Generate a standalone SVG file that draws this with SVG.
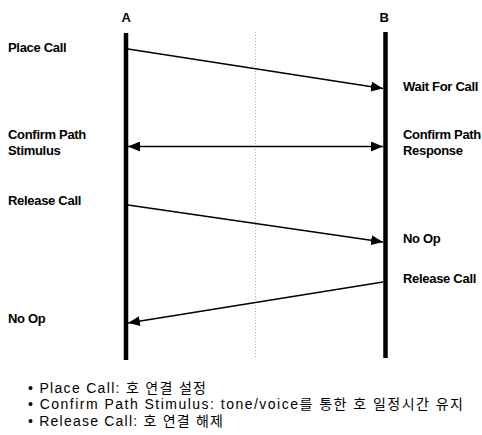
<svg xmlns="http://www.w3.org/2000/svg" width="482" height="435" viewBox="0 0 482 435">
<style>
.lbl{font-family:"Liberation Sans",Arial,sans-serif;font-size:13px;font-weight:bold;letter-spacing:-0.3px;fill:#000}
.note{font-family:"Liberation Sans","Noto Sans CJK KR",sans-serif;font-size:14px;fill:#000}
.life{stroke:#000;stroke-width:4.5}
.msg{stroke:#000;stroke-width:1.6;fill:none}
</style>
<defs>
<marker id="ah" viewBox="0 0 12 10" refX="12" refY="5" markerWidth="12" markerHeight="10" markerUnits="userSpaceOnUse" orient="auto-start-reverse">
<path d="M0,0 L12,5 L0,10 z" fill="#000"/>
</marker>
</defs>
<rect width="482" height="435" fill="#fff"/>
<line x1="255.5" y1="32" x2="255.5" y2="357" stroke="#aaa" stroke-width="1" stroke-dasharray="1,2"/>
<g id="nodeA">
<text class="lbl" x="126" y="22" text-anchor="middle">A</text>
<line class="life" x1="126" y1="33" x2="126" y2="360"/>
</g>
<g id="nodeB">
<text class="lbl" x="384" y="22" text-anchor="middle">B</text>
<line class="life" x1="385.5" y1="32" x2="385.5" y2="358"/>
</g>
<g id="labels">
<text class="lbl" x="8" y="52">Place Call</text>
<text class="lbl" x="403" y="91">Wait For Call</text>
<text class="lbl" x="8" y="139">Confirm Path</text>
<text class="lbl" x="8" y="155">Stimulus</text>
<text class="lbl" x="403" y="139">Confirm Path</text>
<text class="lbl" x="403" y="155">Response</text>
<text class="lbl" x="8" y="205">Release Call</text>
<text class="lbl" x="403" y="243">No Op</text>
<text class="lbl" x="403" y="283">Release Call</text>
<text class="lbl" x="8" y="323">No Op</text>
</g>
<g id="connectors">
<line class="msg" x1="128" y1="49" x2="383" y2="88.5" marker-end="url(#ah)"/>
<line class="msg" x1="128" y1="146.5" x2="383" y2="146.5" marker-start="url(#ah)" marker-end="url(#ah)"/>
<line class="msg" x1="128" y1="205" x2="383" y2="242" marker-end="url(#ah)"/>
<line class="msg" x1="383" y1="282" x2="128" y2="323" marker-end="url(#ah)"/>
</g>
<g id="notes">
<text class="note" x="28" y="393" textLength="178" lengthAdjust="spacing">• Place Call: 호 연결 설정</text>
<text class="note" x="28" y="409" textLength="435" lengthAdjust="spacing">• Confirm Path Stimulus: tone/voice를 통한 호 일정시간 유지</text>
<text class="note" x="28" y="426" textLength="195" lengthAdjust="spacing">• Release Call: 호 연결 해제</text>
</g>
</svg>
